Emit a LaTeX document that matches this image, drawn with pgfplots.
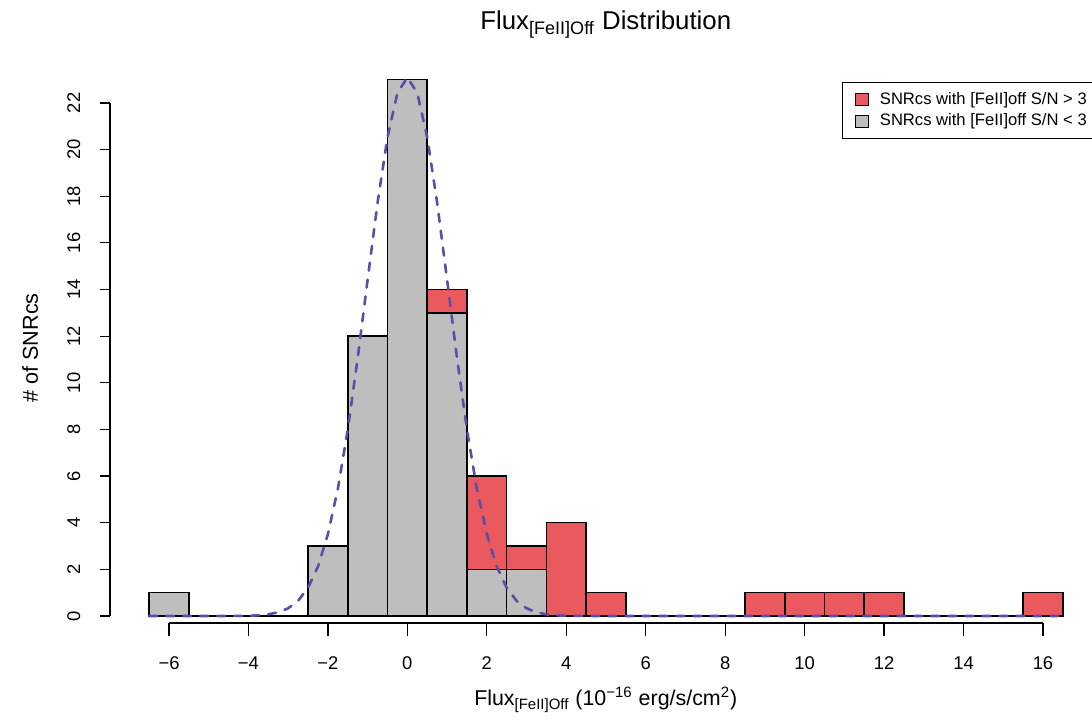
\documentclass[border=0pt]{standalone}
\usepackage{fontspec}
\setmainfont{Liberation Sans}
\usepackage{pgfplots}
\pgfplotsset{compat=1.18}
\definecolor{barred}{RGB}{234,89,94}
\definecolor{bargray}{RGB}{190,190,190}
\definecolor{curveblue}{RGB}{88,80,168}
\newcommand\xlab[2]{\node[anchor=base,font=\fontsize{9.2}{11}\selectfont] at (axis cs:#1,-2.31) {#2};}
\newcommand\ylab[2]{\node[anchor=base,rotate=90,font=\fontsize{9.2}{11}\selectfont] at (axis cs:-8.24,#1) {#2};}
\begin{document}
\begin{tikzpicture}
\path[use as bounding box] (0,0) rectangle (546pt,360.5pt);
\begin{axis}[
  at={(0,0)}, anchor=south west,
  scale only axis, width=546pt, height=360.5pt,
  xmin=-10.254, xmax=17.234, ymin=-4.503, ymax=26.417,
  hide axis, clip=false,
  legend style={at={(0.771,0.8863)}, anchor=north west, draw=black, line width=0.5pt,
    font=\fontsize{8.3}{10}\selectfont, inner xsep=6.5pt, inner ysep=3pt, row sep=-1pt,
    cells={anchor=west}},
  histlegend/.style={legend image code/.code={\draw[##1, line width=0.5pt] (0pt,-3pt) rectangle (6.5pt,3pt); \path[draw=none,fill=none] (0pt,0pt) -- (10pt,0pt);}},
]
\addplot[ybar interval, histlegend, fill=barred, draw=black, line width=0.75pt] coordinates {
(-6.5,1) (-5.5,0) (-4.5,0) (-3.5,0) (-2.5,3) (-1.5,12) (-0.5,23) (0.5,14) (1.5,6) (2.5,3)
(3.5,4) (4.5,1) (5.5,0) (6.5,0) (7.5,0) (8.5,1) (9.5,1) (10.5,1) (11.5,1) (12.5,0)
(13.5,0) (14.5,0) (15.5,1) (16.5,0)};
\addlegendentry{SNRcs with [FeII]off S/N > 3}
\addplot[ybar interval, histlegend, fill=bargray, draw=black, line width=0.75pt] coordinates {
(-6.5,1) (-5.5,0) (-4.5,0) (-3.5,0) (-2.5,3) (-1.5,12) (-0.5,23) (0.5,13) (1.5,2) (2.5,2)
(3.5,0) (4.5,0) (5.5,0) (6.5,0) (7.5,0) (8.5,0) (9.5,0) (10.5,0) (11.5,0) (12.5,0)
(13.5,0) (14.5,0) (15.5,0) (16.5,0)};
\addlegendentry{SNRcs with [FeII]off S/N < 3}
\addplot[forget plot, curveblue, line width=1.3pt, line cap=round, dash pattern=on 4pt off 4.5pt] coordinates {
(-6.5,0) (-4.5,0) (-4,0.01) (-3.75,0.03) (-3.5,0.07) (-3.25,0.16) (-3,0.33) (-2.75,0.65)
(-2.5,1.21) (-2.25,2.12) (-2,3.51) (-1.75,5.45) (-1.5,8.00) (-1.25,11.06) (-1,14.42)
(-0.75,17.72) (-0.5,20.53) (-0.25,22.43) (0,23.1) (0.25,22.43) (0.5,20.53) (0.75,17.72)
(1,14.42) (1.25,11.06) (1.5,8.00) (1.75,5.45) (2,3.51) (2.25,2.12) (2.5,1.21) (2.75,0.65)
(3,0.33) (3.25,0.16) (3.5,0.07) (3.75,0.03) (4,0.01) (4.5,0) (16.5,0)};
% x axis
\draw[line width=0.6pt] (axis cs:-6,-0.30) -- (axis cs:16,-0.30);
\pgfplotsinvokeforeach{-6,-4,-2,0,2,4,6,8,10,12,14,16}{\draw[line width=0.6pt] (axis cs:#1,-0.30) -- (axis cs:#1,-0.86);}
\xlab{-6}{−6}\xlab{-4}{−4}\xlab{-2}{−2}\xlab{0}{0}\xlab{2}{2}\xlab{4}{4}
\xlab{6}{6}\xlab{8}{8}\xlab{10}{10}\xlab{12}{12}\xlab{14}{14}\xlab{16}{16}
% y axis
\draw[line width=0.6pt] (axis cs:-7.484,0) -- (axis cs:-7.484,22);
\pgfplotsinvokeforeach{0,2,4,6,8,10,12,14,16,18,20,22}{\draw[line width=0.6pt] (axis cs:-7.484,#1) -- (axis cs:-7.736,#1);}
\ylab{0}{0}\ylab{2}{2}\ylab{4}{4}\ylab{6}{6}\ylab{8}{8}\ylab{10}{10}
\ylab{12}{12}\ylab{14}{14}\ylab{16}{16}\ylab{18}{18}\ylab{20}{20}\ylab{22}{22}
% labels
\node[anchor=base,rotate=90,font=\fontsize{10.8}{13}\selectfont] at (axis cs:-9.30,11.5) {\# of SNRcs};
\node[anchor=base,font=\fontsize{10.7}{13}\selectfont] at (axis cs:4.994,-3.853) {Flux\textsubscript{[FeII]Off} (10\textsuperscript{−16} erg/s/cm\textsuperscript{2})};
\node[anchor=base,font=\fontsize{12.9}{15}\selectfont] at (axis cs:4.994,25.13) {Flux\textsubscript{[FeII]Off} Distribution};
\end{axis}
\end{tikzpicture}
\end{document}
